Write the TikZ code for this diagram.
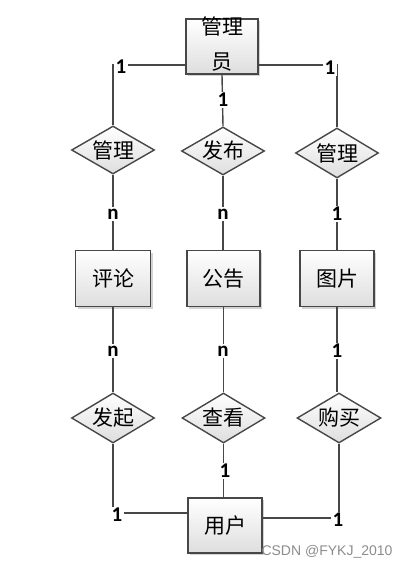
\documentclass[tikz,border=0pt]{standalone}
\usepackage{fontspec}
\setmainfont{Carlito}
\newfontfamily\cjk{Noto Sans CJK SC}
\newfontfamily\wmfont{Liberation Sans}
\usetikzlibrary{shapes.geometric,shadows}
\tikzset{
  conn/.style={draw=black!72, line width=1.4pt},
  ent/.style={draw=black!72, line width=1.4pt, top color=white, bottom color=black!13,
    drop shadow={shadow xshift=2pt, shadow yshift=-2pt, opacity=0.35},
    minimum width=75pt, minimum height=56pt, inner sep=0pt,
    font=\cjk\fontsize{21}{35}\selectfont, align=center},
  rel/.style={diamond, draw=black!72, line width=1.4pt, top color=white, bottom color=black!13,
    minimum width=83pt, minimum height=48pt, inner sep=0pt},
  reltext/.style={font=\cjk\fontsize{21}{24}\selectfont, inner sep=0pt},
  card/.style={fill=white, inner sep=1.5pt, font=\bfseries\fontsize{21}{21}\selectfont}
}
\begin{document}
\begin{tikzpicture}[x=1pt,y=-1pt]
\useasboundingbox (0,0) rectangle (407,569);

% entities
\node[ent, minimum width=72pt, minimum height=55pt] (admin) at (222,46.5) {};
\node[font=\cjk\fontsize{21}{35}\selectfont, align=center, inner sep=0pt] (admintext) at (222,44) {管理\\员};
\node[ent] (e1) at (113,278.5) {评论};
\node[ent, minimum width=73pt] (e2) at (223.5,278.5) {公告};
\node[ent, minimum width=74pt] (e3) at (337,278.5) {图片};
\node[ent, minimum width=74pt, minimum height=55pt] (user) at (225,525.5) {用户};

% relationships
\node[rel] (r1) at (113,150) {};
\node[reltext] (r1t) at (r1) {管理};
\node[rel] (r2) at (223,151) {};
\node[reltext] (r2t) at (r2) {发布};
\node[rel, minimum height=50pt] (r3) at (337,153) {};
\node[reltext] (r3t) at (r3) {管理};
\node[rel, minimum height=50pt] (r4) at (113,418) {};
\node[reltext] (r4t) at (r4) {发起};
\node[rel, minimum height=50pt] (r5) at (223.5,418) {};
\node[reltext] (r5t) at (r5) {查看};
\node[rel, minimum height=50pt, minimum width=84pt] (r6) at (339,418) {};
\node[reltext] (r6t) at (r6) {购买};

% corner coordinates
\coordinate (c1) at (113,65);
\coordinate (c2) at (337,65);
\coordinate (c3) at (113,513);
\coordinate (c4) at (339,518);

% connectors
\draw[conn] (r1.north) -- (c1) -- (c1 -| admin.west);
\draw[conn] (r3.north) -- (c2) -- (c2 -| admin.east);
\draw[conn] (admin.south) -- (r2.north);
\draw[conn] (r1.south) -- (e1.north);
\draw[conn] (r2.south) -- (r2.south |- e2.north);
\draw[conn] (r3.south) -- (e3.north);
\draw[conn] (e1.south) -- (r4.north);
\draw[conn] (e2.south) -- (e2.south |- r5.north);
\draw[conn] (e3.south) -- (e3.south |- r6.north);
\draw[conn] (r5.south) -- (r5.south |- user.north);
\draw[conn] (r4.south) -- (c3) -- (c3 -| user.west);
\draw[conn] (r6.south) -- (c4) -- (c4 -| user.east);

% cardinalities
\node[card] (k1) at (121,67) {1};
\node[card] (k2) at (330,68) {1};
\node[card] (k3) at (223,100) {1};
\node[card] (k4) at (113,214) {n};
\node[card] (k5) at (223,214) {n};
\node[card] (k6) at (337,214) {1};
\node[card] (k7) at (113,351) {n};
\node[card] (k8) at (223,351) {n};
\node[card] (k9) at (337,351) {1};
\node[card] (k10) at (225,471) {1};
\node[card] (k11) at (117,515) {1};
\node[card] (k12) at (338,520) {1};

% watermark
\node[font=\wmfont\fontsize{14}{14}\selectfont, text=black!45, inner sep=0pt] (wm) at (327,552) {CSDN @FYKJ\_2010};
\end{tikzpicture}
\end{document}
